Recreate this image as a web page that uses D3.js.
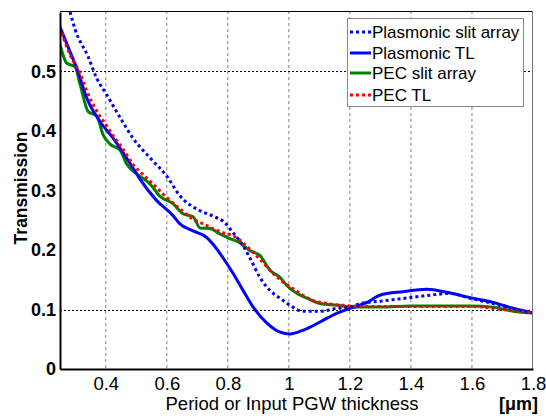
<!DOCTYPE html>
<html>
<head>
<meta charset="utf-8">
<script src="https://cdn.jsdelivr.net/npm/d3@7"></script>
<style>
  body { margin: 0; background: #fff; }
  text { font-family: "Liberation Sans", Arial, sans-serif; }
</style>
</head>
<body>
<svg id="chart" width="546" height="416"></svg>
<script>
// Data (x = period / thickness in um, y = transmission)
const plasSlitX = [0.283, 0.30, 0.342, 0.370, 0.403, 0.45, 0.489, 0.55, 0.600, 0.643, 0.709, 0.751, 0.79, 0.817, 0.846, 0.872, 0.905, 0.938, 0.971, 1.004, 1.046, 1.102, 1.158, 1.2, 1.233, 1.30, 1.397, 1.462, 1.528, 1.593, 1.669, 1.735, 1.8];
const plasSlitY = [0.600, 0.570, 0.525, 0.489, 0.461, 0.420, 0.388, 0.352, 0.324, 0.291, 0.266, 0.257, 0.246, 0.229, 0.210, 0.187, 0.154, 0.132, 0.119, 0.107, 0.097, 0.097, 0.102, 0.104, 0.110, 0.114, 0.120, 0.124, 0.127, 0.119, 0.110, 0.100, 0.094];

const plasTlX = [0.25, 0.283, 0.309, 0.338, 0.381, 0.424, 0.489, 0.512, 0.567, 0.62, 0.643, 0.686, 0.731, 0.751, 0.784, 0.817, 0.85, 0.883, 0.928, 0.971, 1.004, 1.046, 1.102, 1.158, 1.2, 1.256, 1.298, 1.374, 1.452, 1.518, 1.593, 1.669, 1.735, 1.8];
const plasTlY = [0.575, 0.533, 0.500, 0.455, 0.416, 0.388, 0.338, 0.319, 0.283, 0.258, 0.244, 0.232, 0.221, 0.210, 0.187, 0.161, 0.132, 0.104, 0.077, 0.062, 0.059, 0.065, 0.079, 0.094, 0.102, 0.112, 0.124, 0.130, 0.134, 0.129, 0.120, 0.112, 0.102, 0.094];

const pecSlitX = [0.25, 0.272, 0.299, 0.316, 0.342, 0.371, 0.391, 0.414, 0.447, 0.469, 0.489, 0.512, 0.545, 0.578, 0.62, 0.653, 0.686, 0.709, 0.741, 0.774, 0.807, 0.840, 0.872, 0.905, 0.938, 0.971, 0.994, 1.027, 1.06, 1.102, 1.158, 1.21, 1.298, 1.4, 1.5, 1.593, 1.669, 1.735, 1.8];
const pecSlitY = [0.545, 0.514, 0.508, 0.478, 0.433, 0.425, 0.394, 0.378, 0.368, 0.344, 0.333, 0.324, 0.311, 0.290, 0.278, 0.261, 0.256, 0.237, 0.236, 0.227, 0.219, 0.212, 0.199, 0.191, 0.166, 0.154, 0.140, 0.127, 0.119, 0.110, 0.107, 0.104, 0.104, 0.106, 0.106, 0.106, 0.104, 0.097, 0.094];

const pecTlX = [0.25, 0.266, 0.283, 0.316, 0.338, 0.371, 0.404, 0.43, 0.456, 0.489, 0.522, 0.555, 0.588, 0.643, 0.686, 0.719, 0.751, 0.784, 0.817, 0.85, 0.883, 0.915, 0.948, 0.981, 1.014, 1.046, 1.079, 1.125, 1.177, 1.256, 1.4, 1.6, 1.7, 1.8];
const pecTlY = [0.575, 0.550, 0.528, 0.497, 0.467, 0.433, 0.408, 0.388, 0.370, 0.344, 0.327, 0.311, 0.294, 0.269, 0.252, 0.244, 0.236, 0.229, 0.224, 0.212, 0.196, 0.179, 0.161, 0.146, 0.135, 0.124, 0.115, 0.110, 0.107, 0.105, 0.105, 0.105, 0.100, 0.094];

const xTicks = [0.4, 0.6, 0.8, 1, 1.2, 1.4, 1.6, 1.8];
const yTicks = [0, 0.1, 0.2, 0.3, 0.4, 0.5];
const yGrid = [0.1, 0.5];

const series = [
  { name: "Plasmonic slit array", xs: plasSlitX, ys: plasSlitY, color: "#0000ff", dash: "3,3" },
  { name: "Plasmonic TL", xs: plasTlX, ys: plasTlY, color: "#0000ff", dash: null },
  { name: "PEC slit array", xs: pecSlitX, ys: pecSlitY, color: "#008000", dash: null },
  { name: "PEC TL", xs: pecTlX, ys: pecTlY, color: "#ff0000", dash: "3,3" }
];

const svg = d3.select("#chart");
const mLeft = 60, mRight = 533, mTop = 11, mBottom = 369;

const x = d3.scaleLinear().domain([0.25, 1.8]).range([mLeft, mRight]);
const y = d3.scaleLinear().domain([0, 0.6]).range([mBottom, mTop + 1]);

// Grid lines
svg.append("g")
  .selectAll("line")
  .data(xTicks.filter(d => d < 1.8))
  .join("line")
  .attr("x1", d => x(d)).attr("x2", d => x(d))
  .attr("y1", mTop).attr("y2", mBottom)
  .attr("stroke", "#808080")
  .attr("stroke-width", 1)
  .attr("stroke-dasharray", "3,3");

svg.append("g")
  .selectAll("line")
  .data(yGrid)
  .join("line")
  .attr("x1", mLeft).attr("x2", mRight)
  .attr("y1", d => Math.round(y(d)) + 0.5).attr("y2", d => Math.round(y(d)) + 0.5)
  .attr("stroke", "#000")
  .attr("stroke-width", 1)
  .attr("stroke-dasharray", "2,2");

// Curves
svg.append("clipPath").attr("id", "plotclip")
  .append("rect").attr("x", mLeft).attr("y", mTop).attr("width", mRight - mLeft).attr("height", mBottom - mTop);

const line = d3.line()
  .x(d => x(d[0]))
  .y(d => y(d[1]))
  .curve(d3.curveMonotoneX);

const curves = svg.append("g").attr("clip-path", "url(#plotclip)");
// draw solids first, dotted on top (PEC TL drawn last)
[series[2], series[1], series[0], series[3]].forEach(s => {
  curves.append("path")
    .datum(s.xs.map((v, i) => [v, s.ys[i]]))
    .attr("fill", "none")
    .attr("stroke", s.color)
    .attr("stroke-width", 3)
    .attr("stroke-dasharray", s.dash)
    .attr("d", line);
});

// Axes frame
svg.append("line").attr("x1", mLeft).attr("x2", mRight).attr("y1", mTop + 0.5).attr("y2", mTop + 0.5)
  .attr("stroke", "#000").attr("stroke-width", 1);
svg.append("line").attr("x1", mRight - 0.5).attr("x2", mRight - 0.5).attr("y1", mTop).attr("y2", mBottom)
  .attr("stroke", "#777").attr("stroke-width", 1);

const xAxis = svg.append("g")
  .attr("transform", `translate(0,${mBottom})`)
  .call(d3.axisBottom(x).tickValues(xTicks).tickSize(0).tickPadding(8).tickFormat(d3.format("")));
xAxis.select(".domain").attr("stroke", "#000").attr("stroke-width", 2);
xAxis.selectAll("text").attr("font-size", 18.5).attr("fill", "#000")
  .attr("font-family", "Liberation Sans, Arial, sans-serif");

const yAxis = svg.append("g")
  .attr("transform", `translate(${mLeft},0)`)
  .call(d3.axisLeft(y).tickValues(yTicks).tickSize(0).tickPadding(4).tickFormat(d3.format("")));
yAxis.select(".domain").attr("stroke", "#000").attr("stroke-width", 2);
yAxis.selectAll("text").attr("font-size", 18).attr("font-weight", "bold").attr("fill", "#000")
  .attr("font-family", "Liberation Sans, Arial, sans-serif");

// Axis titles
svg.append("text")
  .attr("x", 292).attr("y", 410)
  .attr("text-anchor", "middle")
  .attr("font-size", 18.5)
  .text("Period or Input PGW thickness");

svg.append("text")
  .attr("x", 538).attr("y", 410)
  .attr("text-anchor", "end")
  .attr("font-size", 18)
  .attr("font-weight", "bold")
  .text("[μm]");

svg.append("text")
  .attr("transform", "translate(27,188) rotate(-90)")
  .attr("text-anchor", "middle")
  .attr("font-size", 17.5)
  .attr("font-weight", "bold")
  .text("Transmission");

// Legend
const legend = svg.append("g");
legend.append("rect")
  .attr("x", 347.5).attr("y", 18.5).attr("width", 176).attr("height", 88)
  .attr("fill", "#fff").attr("stroke", "#888").attr("stroke-width", 1);

const legendY = [32, 53, 73, 95];
series.forEach((s, i) => {
  legend.append("line")
    .attr("x1", 350).attr("x2", 371)
    .attr("y1", legendY[i]).attr("y2", legendY[i])
    .attr("stroke", s.color)
    .attr("stroke-width", 3)
    .attr("stroke-dasharray", s.dash);
  legend.append("text")
    .attr("x", 372).attr("y", legendY[i] + 6)
    .attr("font-size", 17)
    .text(s.name);
});
</script>
</body>
</html>
